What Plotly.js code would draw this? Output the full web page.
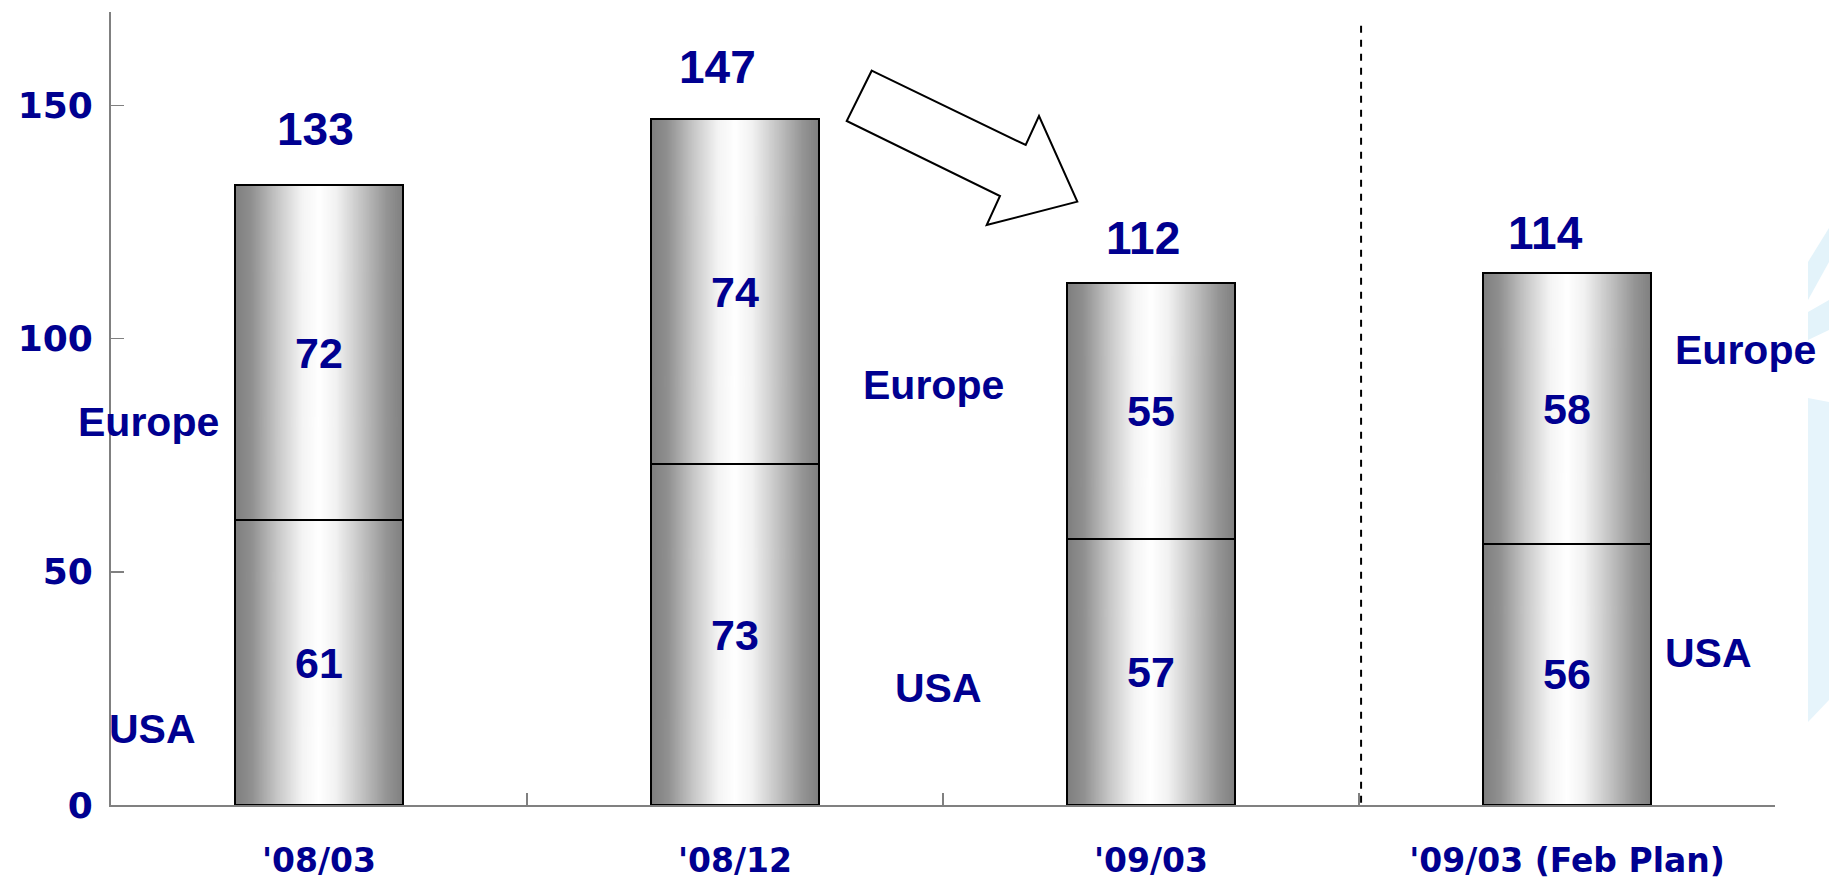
<!DOCTYPE html>
<html>
<head>
<meta charset="utf-8">
<script src="https://cdn.plot.ly/plotly-3.0.1.min.js"></script>
<style>
  html, body { margin: 0; padding: 0; background: #ffffff; }
  #chart { width: 1829px; height: 879px; }
</style>
</head>
<body>
<div id="chart"></div>
<script>
// ---- data ----
const categories = ["'08/03", "'08/12", "'09/03", "'09/03 (Feb Plan)"];
const usa = [61, 73, 57, 56];
const europe = [72, 74, 55, 58];
const totals = [133, 147, 112, 114];
const yTickValues = [0, 50, 100, 150];
const seriesNames = ["USA", "Europe"];
const labelledBars = [0, 1, 3];

// ---- style ----
const NAVY = '#000090';
const BARGAP = 0.595;
const BARW = 1 - BARGAP;
const M = { l: 111, r: 54, t: 12, b: 74 };
const W = 1829, H = 879;
const PW = W - M.l - M.r, PH = H - M.t - M.b;

function gradientURL() {
  const c = document.createElement('canvas');
  c.width = 400; c.height = 4;
  const g = c.getContext('2d');
  const lg = g.createLinearGradient(0, 0, 400, 0);
  lg.addColorStop(0.00, '#7e7e7e');
  lg.addColorStop(0.10, '#909090');
  lg.addColorStop(0.25, '#c6c6c6');
  lg.addColorStop(0.40, '#f4f4f4');
  lg.addColorStop(0.50, '#ffffff');
  lg.addColorStop(0.60, '#f2f2f2');
  lg.addColorStop(0.75, '#c4c4c4');
  lg.addColorStop(0.90, '#959595');
  lg.addColorStop(1.00, '#7f7f7f');
  g.fillStyle = lg;
  g.fillRect(0, 0, 400, 4);
  return c.toDataURL('image/png');
}
const grad = gradientURL();

// pixel -> paper helper for decorations
function P(px, py) {
  return ((px - M.l) / PW).toFixed(5) + ',' + (1 - (py - M.t) / PH).toFixed(5);
}
function poly(pts) {
  return 'M' + pts.map(p => P(p[0], p[1])).join(' L') + ' Z';
}

const barLine = { color: '#000000', width: 2 };
const segFont = { family: 'Liberation Sans, Arial, sans-serif', size: 43, weight: 'bold', color: NAVY };

const traces = [
  {
    type: 'bar', name: seriesNames[0], x: categories, y: usa,
    marker: { color: 'rgba(0,0,0,0)', line: barLine },
    text: usa.map(String), textposition: 'inside', insidetextanchor: 'middle',
    textangle: 0, constraintext: 'none', textfont: segFont,
    hoverinfo: 'x+y+name'
  },
  {
    type: 'bar', name: seriesNames[1], x: categories, y: europe,
    marker: { color: 'rgba(0,0,0,0)', line: barLine },
    text: europe.map(String), textposition: 'inside', insidetextanchor: 'middle',
    textangle: 0, constraintext: 'none', textfont: segFont,
    hoverinfo: 'x+y+name'
  }
];

// gradient fills under each stacked bar
const images = totals.map((t, i) => ({
  source: grad, xref: 'x', yref: 'y',
  x: i - BARW / 2, y: t, sizex: BARW, sizey: t,
  xanchor: 'left', yanchor: 'top', sizing: 'stretch', layer: 'below'
}));

// annotations: totals + region labels
const totalShiftY = [56, 52, 45, 40];
const totalShiftX = [-4, -18, -8, -22];
const annotations = totals.map((t, i) => ({
  x: i, y: t, xref: 'x', yref: 'y', text: String(t), showarrow: false,
  yanchor: 'middle', yshift: totalShiftY[i], xshift: totalShiftX[i],
  font: { family: 'Liberation Sans, Arial, sans-serif', size: 46, weight: 'bold', color: NAVY }
}));
const euroPos = [[-0.41, 82], [1.478, 90], [3.43, 97.5]];
const usaPos = [[-0.40, 16.3], [1.488, 25], [3.34, 32.6]];
const labFont = { family: 'Liberation Sans, Arial, sans-serif', size: 41, weight: 'bold', color: NAVY };
labelledBars.forEach((b, k) => {
  annotations.push({ x: euroPos[k][0], y: euroPos[k][1], xref: 'x', yref: 'y', text: seriesNames[1], showarrow: false, font: labFont });
  annotations.push({ x: usaPos[k][0], y: usaPos[k][1], xref: 'x', yref: 'y', text: seriesNames[0], showarrow: false, font: labFont });
});

const shapes = [
  // separator between actuals and plan
  { type: 'line', xref: 'x', yref: 'y', x0: 2.505, x1: 2.505, y0: 0.5, y1: 168.5,
    line: { color: '#000000', width: 2, dash: '7px,7px' } },
  // block arrow
  { type: 'path', xref: 'paper', yref: 'paper', layer: 'above',
    path: poly([[871.7, 70.7], [1025.7, 145], [1039, 116], [1077.3, 201.7], [986.7, 225], [1000, 196], [846.7, 121]]),
    fillcolor: '#ffffff', line: { color: '#000000', width: 2 } },
  // faint logo at right edge
  { type: 'path', xref: 'paper', yref: 'paper', layer: 'below',
    path: poly([[1808, 262], [1829, 228], [1829, 262], [1808, 300]]),
    fillcolor: '#e3f3fa', line: { width: 0 } },
  { type: 'path', xref: 'paper', yref: 'paper', layer: 'below',
    path: poly([[1808, 312], [1829, 300], [1829, 330], [1808, 340]]),
    fillcolor: '#e3f3fa', line: { width: 0 } },
  { type: 'path', xref: 'paper', yref: 'paper', layer: 'below',
    path: poly([[1808, 398], [1829, 402], [1829, 700], [1808, 722]]),
    fillcolor: '#e6f4fb', line: { width: 0 } }
];

const tickFont = { family: 'DejaVu Sans, sans-serif', weight: 'bold', color: NAVY };

const layout = {
  width: W, height: H, margin: M,
  paper_bgcolor: '#ffffff', plot_bgcolor: 'rgba(0,0,0,0)',
  showlegend: false, barmode: 'stack', bargap: BARGAP,
  xaxis: {
    type: 'category', range: [-0.5, 3.5], fixedrange: true,
    showline: true, linecolor: '#808080', linewidth: 2,
    ticks: 'inside', ticklen: 12, tickwidth: 1.5, tickcolor: '#808080', tickson: 'boundaries',
    showgrid: false, zeroline: false,
    tickfont: Object.assign({ size: 33 }, tickFont), ticklabelstandoff: 25
  },
  yaxis: {
    range: [0, 170], fixedrange: true, tickmode: 'array', tickvals: yTickValues,
    showline: true, linecolor: '#808080', linewidth: 2,
    ticks: 'inside', ticklen: 13, tickwidth: 1.5, tickcolor: '#808080',
    showgrid: false, zeroline: false,
    tickfont: Object.assign({ size: 36 }, tickFont), ticklabelstandoff: 9
  },
  images: images, annotations: annotations, shapes: shapes
};

Plotly.newPlot('chart', traces, layout, { displayModeBar: false, staticPlot: true });
</script>
</body>
</html>
